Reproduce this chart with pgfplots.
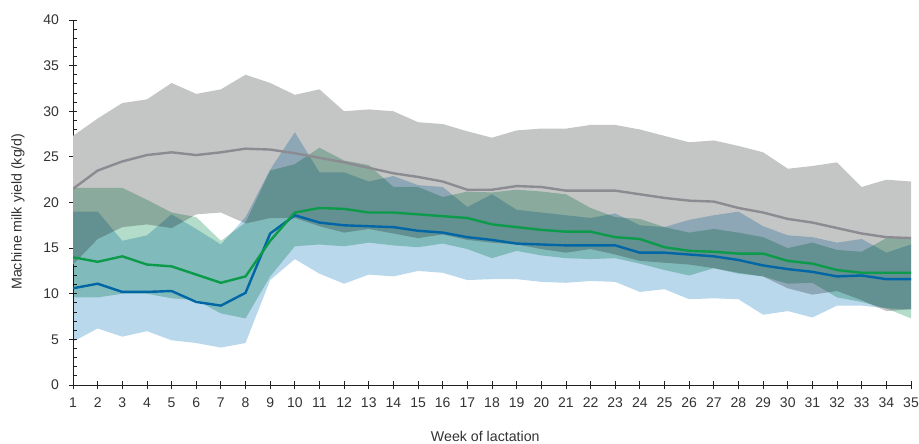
\documentclass[border=0pt]{standalone}
\usepackage{pgfplots}
\pgfplotsset{compat=1.18}
\usepackage{pgfplotstable}
\usepgfplotslibrary{fillbetween}
\usepackage{fontspec}
\setmainfont{Liberation Sans}
\definecolor{grayband}{HTML}{C4C6C5}
\definecolor{blueband}{HTML}{B9D8EC}
\definecolor{greenband}{HTML}{B3DCCA}
\definecolor{grayline}{HTML}{8C8B92}
\definecolor{greenline}{HTML}{0B9B4A}
\definecolor{blueline}{HTML}{0066A6}
\definecolor{axisc}{HTML}{231F20}
\definecolor{textc}{HTML}{333333}

\pgfplotstableread{
w gu gm gl ngu nm ngl bu bm bl
1 27.3 21.5 13.2 21.6 14.0 9.6 19.0 10.6 4.75
2 29.2 23.5 16.0 21.6 13.5 9.6 19.0 11.1 6.2
3 30.9 24.5 17.3 21.6 14.1 10.0 15.8 10.2 5.3
4 31.3 25.2 17.6 20.3 13.2 10.0 16.4 10.2 5.9
5 33.1 25.5 17.2 18.9 13.0 9.5 18.7 10.3 4.9
6 31.9 25.2 18.7 18.4 12.1 9.3 17.1 9.1 4.6
7 32.4 25.5 18.9 15.8 11.2 7.85 15.4 8.7 4.1
8 34.0 25.9 17.7 17.8 11.9 7.3 18.4 10.1 4.6
9 33.1 25.8 18.3 23.5 15.8 11.9 23.6 16.6 11.5
10 31.8 25.4 18.3 24.2 18.9 15.2 27.7 18.6 13.8
11 32.4 24.9 17.4 26.0 19.4 15.4 23.3 17.8 12.2
12 30.0 24.4 16.7 24.6 19.3 15.2 23.3 17.5 11.1
13 30.2 23.8 17.1 24.1 18.9 15.6 22.3 17.4 12.1
14 30.0 23.2 16.6 21.7 18.9 15.3 22.9 17.3 11.9
15 28.8 22.8 16.1 21.7 18.7 15.1 21.9 16.9 12.5
16 28.6 22.3 16.5 20.6 18.5 15.5 21.7 16.7 12.3
17 27.8 21.4 15.9 21.2 18.3 14.9 19.5 16.2 11.5
18 27.1 21.4 15.6 21.1 17.6 13.9 20.9 15.9 11.6
19 27.9 21.8 15.4 21.4 17.3 14.7 19.2 15.5 11.6
20 28.1 21.7 14.9 21.2 17.0 14.2 18.9 15.4 11.3
21 28.1 21.3 14.5 20.9 16.8 13.9 18.6 15.3 11.2
22 28.5 21.3 14.9 19.4 16.8 13.8 18.3 15.3 11.4
23 28.5 21.3 14.3 18.4 16.2 13.9 18.8 15.3 11.3
24 28.0 20.9 13.6 18.2 16.0 13.3 17.5 14.5 10.2
25 27.3 20.5 13.4 17.3 15.1 12.6 17.3 14.5 10.5
26 26.6 20.2 13.2 16.7 14.7 12.0 18.1 14.3 9.4
27 26.8 20.1 12.8 17.1 14.6 12.8 18.6 14.1 9.5
28 26.2 19.4 12.3 16.7 14.4 12.2 19.0 13.7 9.4
29 25.5 18.9 11.9 16.2 14.4 11.9 17.4 13.1 7.7
30 23.7 18.2 10.6 15.0 13.6 11.1 16.4 12.7 8.1
31 24.0 17.8 9.9 15.6 13.3 11.2 16.2 12.4 7.4
32 24.4 17.2 10.3 14.8 12.6 9.6 15.6 11.9 8.7
33 21.7 16.6 9.3 14.6 12.3 9.1 16.0 12.0 8.7
34 22.5 16.2 8.1 16.1 12.3 8.4 14.5 11.6 8.4
35 22.3 16.1 8.3 16.0 12.3 7.3 15.4 11.6 8.3
}\datatable

\begin{document}
\fontsize{14}{16}\selectfont
\begin{tikzpicture}
\begin{axis}[
  at={(73pt,59pt)}, anchor=south west,
  scale only axis, width=838pt, height=365pt,
  xmin=1, xmax=35, ymin=0, ymax=40,
  axis lines=left, axis line style={-, axisc, line width=0.9pt},
  xtick={1,...,35}, ytick={0,5,...,40},
  minor y tick num=4,
  tick align=center,
  major tick length=8.5pt, minor tick length=3.7pt,
  tick style={axisc, line width=0.8pt},
  minor y tick style={xshift=1.85pt},
  ticklabel style={font=\fontsize{14}{16}\selectfont, text=textc},
  xticklabel style={yshift=-4pt},
  yticklabel style={xshift=-5pt},
  /pgf/number format/assume math mode=true,
  xlabel={Week of lactation},
  ylabel={Machine milk yield (kg/d)},
  label style={font=\fontsize{14.2}{16}\selectfont, text=textc, inner sep=0pt},
  xlabel style={at={(axis description cs:0.492,-0.14)}, anchor=center},
  ylabel style={at={(axis description cs:-0.0656,0.475)}, anchor=center},
]
\addplot[name path=gu, draw=none, forget plot] table[x=w,y=gu]{\datatable};
\addplot[name path=gl, draw=none, forget plot] table[x=w,y=gl]{\datatable};
\addplot[name path=ngu, draw=none, forget plot] table[x=w,y=ngu]{\datatable};
\addplot[name path=ngl, draw=none, forget plot] table[x=w,y=ngl]{\datatable};
\addplot[name path=bu, draw=none, forget plot] table[x=w,y=bu]{\datatable};
\addplot[name path=bl, draw=none, forget plot] table[x=w,y=bl]{\datatable};
\addplot[fill=grayband, draw=none] fill between[of=gu and gl];
\addplot[fill=blueband, draw=none, blend mode=multiply] fill between[of=bu and bl];
\addplot[fill=greenband, draw=none, blend mode=multiply] fill between[of=ngu and ngl];
\addplot[grayline, line width=2.4pt, no markers] table[x=w,y=gm]{\datatable};
\addplot[blueline, line width=2.4pt, no markers] table[x=w,y=bm]{\datatable};
\addplot[greenline, line width=2.4pt, no markers] table[x=w,y=nm]{\datatable};
\end{axis}
\pgfresetboundingbox
\useasboundingbox (0,0) rectangle (919pt,444pt);
\end{tikzpicture}
\end{document}
